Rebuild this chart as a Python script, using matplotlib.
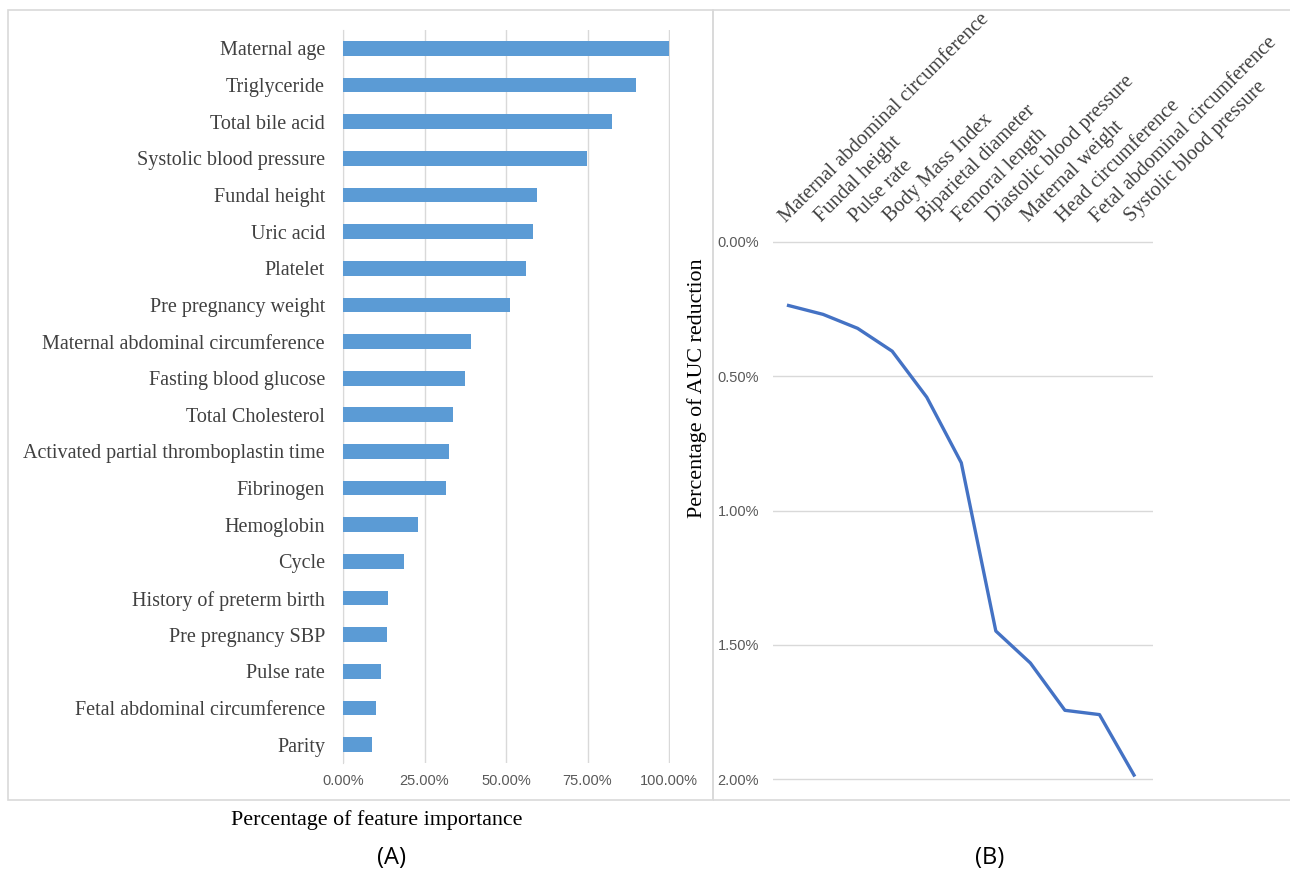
import matplotlib.pyplot as plt
from matplotlib.patches import Rectangle
from matplotlib.ticker import FuncFormatter

plt.rcParams['font.family'] = 'Liberation Serif'

# panel A data
features = ['Maternal age', 'Triglyceride', 'Total bile acid', 'Systolic blood pressure',
            'Fundal height', 'Uric acid', 'Platelet', 'Pre pregnancy weight',
            'Maternal abdominal circumference', 'Fasting blood glucose', 'Total Cholesterol',
            'Activated partial thromboplastin time', 'Fibrinogen', 'Hemoglobin', 'Cycle',
            'History of preterm birth', 'Pre pregnancy SBP', 'Pulse rate',
            'Fetal abdominal circumference', 'Parity']
importance = [100.0, 89.9, 82.6, 74.9, 59.6, 58.4, 56.0, 51.1, 39.4, 37.3, 33.6,
              32.4, 31.5, 22.9, 18.7, 13.8, 13.5, 11.6, 10.1, 8.9]
imp_ticks = [0, 25, 50, 75, 100]

# panel B data
removed = ['Maternal abdominal circumference', 'Fundal height', 'Pulse rate',
           'Body Mass Index', 'Biparietal diameter', 'Femoral length',
           'Diastolic blood pressure', 'Maternal weight', 'Head circumference',
           'Fetal abdominal circumference', 'Systolic blood pressure']
auc_reduction = [0.237, 0.27, 0.322, 0.407, 0.578, 0.822, 1.448, 1.567, 1.743, 1.759, 1.984]
auc_ticks = [0.0, 0.5, 1.0, 1.5, 2.0]

bar_color = '#5B9BD5'
line_color = '#4472C4'
grid_color = '#D9D9D9'
tick_color = '#595959'
label_color = '#404040'

W, H = 1290, 874
fig = plt.figure(figsize=(W / 100, H / 100), dpi=100)

# frames around the panels
fig.patches.append(Rectangle((8 / W, 1 - 800 / H), 705 / W, 790 / H, transform=fig.transFigure,
                             fill=False, edgecolor=grid_color, lw=1.2))
fig.patches.append(Rectangle((713 / W, 1 - 800 / H), 600 / W, 790 / H, transform=fig.transFigure,
                             fill=False, edgecolor=grid_color, lw=1.2))

# ---- (A) bar chart
axA = fig.add_axes([343 / W, 1 - 763 / H, 327 / W, 733 / H])
ypos = list(range(len(features)))
axA.barh(ypos, importance, height=0.4, color=bar_color, zorder=3)
axA.set_ylim(19.5, -0.5)
axA.set_xlim(0, 100.3)
axA.set_yticks(ypos)
axA.set_yticklabels(features, fontsize=14.5, color=label_color)
axA.set_xticks(imp_ticks)
axA.xaxis.set_major_formatter(FuncFormatter(lambda v, p: '%.2f%%' % v))
for lab in axA.get_xticklabels():
    lab.set_family('Liberation Sans')
axA.tick_params(axis='x', length=0, labelsize=10.5, labelcolor=tick_color, pad=8)
axA.tick_params(axis='y', length=0, pad=13)
axA.grid(axis='x', color=grid_color, lw=1, zorder=0)
for s in ['top', 'right', 'bottom']:
    axA.spines[s].set_visible(False)
axA.spines['left'].set_color(grid_color)
axA.set_facecolor('none')

fig.text(377 / W, 1 - 820 / H, 'Percentage of feature importance', fontsize=15.8,
         ha='center', va='center', color='black')
fig.text(392 / W, 1 - 858 / H, '(A)', fontsize=17, ha='center', va='center',
         family='Open Sans', color='black')

# ---- (B) line chart
axB = fig.add_axes([773 / W, 1 - 781 / H, 380 / W, 540 / H])
xpos = list(range(len(removed)))
axB.plot(xpos, auc_reduction, color=line_color, lw=2.4, zorder=3)
axB.set_xlim(-0.45, 10.55)
axB.set_ylim(2.006, -0.003)
axB.set_yticks(auc_ticks)
axB.yaxis.set_major_formatter(FuncFormatter(lambda v, p: '%.2f%%' % v))
for lab in axB.get_yticklabels():
    lab.set_family('Liberation Sans')
axB.tick_params(axis='y', length=0, labelsize=10.5, labelcolor=tick_color, pad=10)
axB.set_xticks(xpos)
axB.set_xticklabels([])
axB.tick_params(axis='x', length=0)
axB.grid(axis='y', color=grid_color, lw=1, zorder=0)
for s in axB.spines.values():
    s.set_visible(False)
axB.set_facecolor('none')
for i, name in enumerate(removed):
    axB.annotate(name, xy=(i, 0.0), xycoords='data', xytext=(-1.5, 13.7),
                 textcoords='offset points', rotation=45, rotation_mode='anchor',
                 ha='left', va='baseline', fontsize=14.8, color=label_color,
                 annotation_clip=False)

fig.text(697 / W, 1 - 388 / H, 'Percentage of AUC reduction', fontsize=15.8,
         rotation=90, ha='center', va='center', color='black')
fig.text(990 / W, 1 - 858 / H, '(B)', fontsize=17, ha='center', va='center',
         family='Open Sans', color='black')

fig.savefig('out.png', dpi=100)
